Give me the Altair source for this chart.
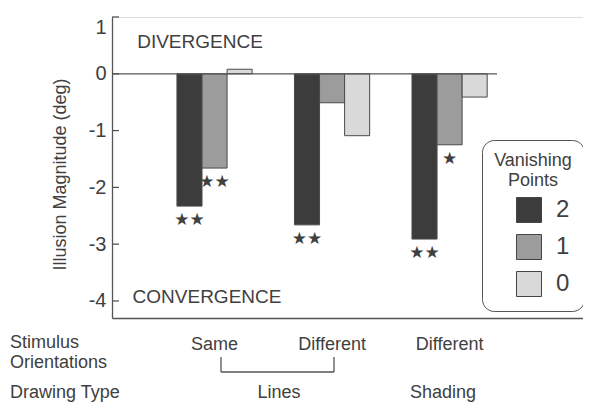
import altair as alt
import pandas as pd

# ---- data ----
groups = ["Lines|Same", "Lines|Different", "Shading|Different"]
vanishing = ["2", "1", "0"]
values_2 = [-2.33, -2.66, -2.91]
values_1 = [-1.66, -0.51, -1.25]
values_0 = [0.08, -1.09, -0.41]
sig_2 = ["★★", "★★", "★★"]
sig_1 = ["★★", "", "★"]
sig_0 = ["", "", ""]
y_ticks = [1, 0, -1, -2, -3, -4]
colors = ["#3c3c3c", "#9c9c9c", "#d9d9d9"]

rows = []
for vp, vals, sigs in zip(vanishing, [values_2, values_1, values_0], [sig_2, sig_1, sig_0]):
    for g, v, s in zip(groups, vals, sigs):
        rows.append({"group": g, "vp": vp, "value": v, "sig": s})
df = pd.DataFrame(rows)

TXT = "#404040"
LINE = "#555555"
FONT = "Liberation Sans"

x_enc = alt.X(
    "group:N",
    sort=groups,
    scale=alt.Scale(paddingInner=0.36, paddingOuter=0.684, align=0.404),
    axis=alt.Axis(
        title=None, ticks=False, tickSize=0, domain=True, domainColor=LINE, domainWidth=1.3,
        labelExpr="split(datum.label, '|')[1]", labelFontSize=18, labelColor=TXT,
        labelFont=FONT, labelPadding=26, labelBaseline="middle", labelAngle=0,
    ),
)
y_scale = alt.Scale(domain=[-4.3, 1], nice=False, zero=False)
y_enc = alt.Y(
    "value:Q",
    scale=y_scale,
    axis=alt.Axis(
        title="Illusion Magnitude (deg)", values=y_ticks, ticks=False, tickSize=0,
        labelExpr="'' + datum.value",
        labelBaseline={"condition": {"test": "datum.value == 1", "value": "top"}, "value": "middle"},
        grid=False, domainColor=LINE, domainWidth=1.3, labelFontSize=20, labelColor=TXT,
        labelFont=FONT, labelPadding=6, titleFontSize=18, titleFontWeight="normal",
        titleColor=TXT, titleFont=FONT, titleX=-52, titleY=157, titleBaseline="middle",
    ),
)
xoff = alt.XOffset("vp:N", sort=vanishing, scale=alt.Scale(domain=vanishing, paddingInner=0, paddingOuter=0))

bars = alt.Chart(df).mark_bar(stroke="#4a4a4a", strokeWidth=1).encode(
    x=x_enc,
    xOffset=xoff,
    y=y_enc,
    y2=alt.Y2(datum=0),
    color=alt.Color(
        "vp:N",
        sort=vanishing,
        scale=alt.Scale(domain=vanishing, range=colors),
        legend=alt.Legend(
            title=["Vanishing", "Points"], orient="none", legendX=370, legendY=123,
            direction="vertical", titleAnchor="middle", titleAlign="center",
            titleFontSize=18, titleFontWeight="normal", titleColor=TXT, titleFont=FONT,
            titleLineHeight=20, titlePadding=7,
            labelFontSize=24, labelColor=TXT, labelFont=FONT, labelOffset=14,
            symbolType="square", symbolSize=625, symbolStrokeColor="#444444",
            symbolStrokeWidth=1, symbolOffset=19, rowPadding=7,
            padding=12, strokeColor=LINE, cornerRadius=12, fillColor="white",
        ),
    ),
)

stars = alt.Chart(df).mark_text(
    font="DejaVu Sans", fontSize=17, color=TXT, baseline="middle", dy=14
).encode(
    x=alt.X("group:N", sort=groups),
    xOffset=alt.XOffset("vp:N", sort=vanishing),
    y=alt.Y("value:Q", scale=y_scale),
    text="sig:N",
)

one = pd.DataFrame({"k": [0]})

zero_line = alt.Chart(one).mark_rule(color=LINE, strokeWidth=1.3).encode(
    y=alt.Y(datum=0, scale=y_scale), x=alt.value(0), x2=alt.value(385)
)
tick_df = pd.DataFrame({"t": y_ticks})
inward_ticks = alt.Chart(tick_df).mark_rule(color=LINE, strokeWidth=1.3).encode(
    y=alt.Y("t:Q", scale=y_scale), x=alt.value(0), x2=alt.value(7)
)


def label(text, x, y, align="left", size=18):
    return alt.Chart(one).mark_text(
        text=text, align=align, baseline="middle", fontSize=size, font=FONT, color=TXT
    ).encode(x=alt.value(x), y=alt.value(y))


def rule(x, x2, y, y2):
    return alt.Chart(one).mark_rule(color=LINE, strokeWidth=1.3).encode(
        x=alt.value(x), x2=alt.value(x2), y=alt.value(y), y2=alt.value(y2)
    )


texts = [
    label("DIVERGENCE", 88, 25, "center", 19),
    label("CONVERGENCE", 95, 280, "center", 19),
    label("Stimulus", -102, 326),
    label("Orientations", -102, 346),
    label("Drawing Type", -102, 376),
    label("Lines", 167, 376, "center"),
    label("Shading", 331, 376, "center"),
]
bracket = [
    rule(109, 109, 340, 355),
    rule(222, 222, 340, 355),
    rule(109, 222, 355, 355),
]

chart = alt.layer(bars, zero_line, inward_ticks, stars, *texts, *bracket).properties(
    width=471,
    height=301,
    autosize=alt.AutoSizeParams(type="none"),
    padding={"left": 104, "top": 9, "right": 0, "bottom": 85},
).configure_view(stroke=None).configure(background="white")

chart.save("out.html", embed_options={"renderer": "svg", "actions": False})
